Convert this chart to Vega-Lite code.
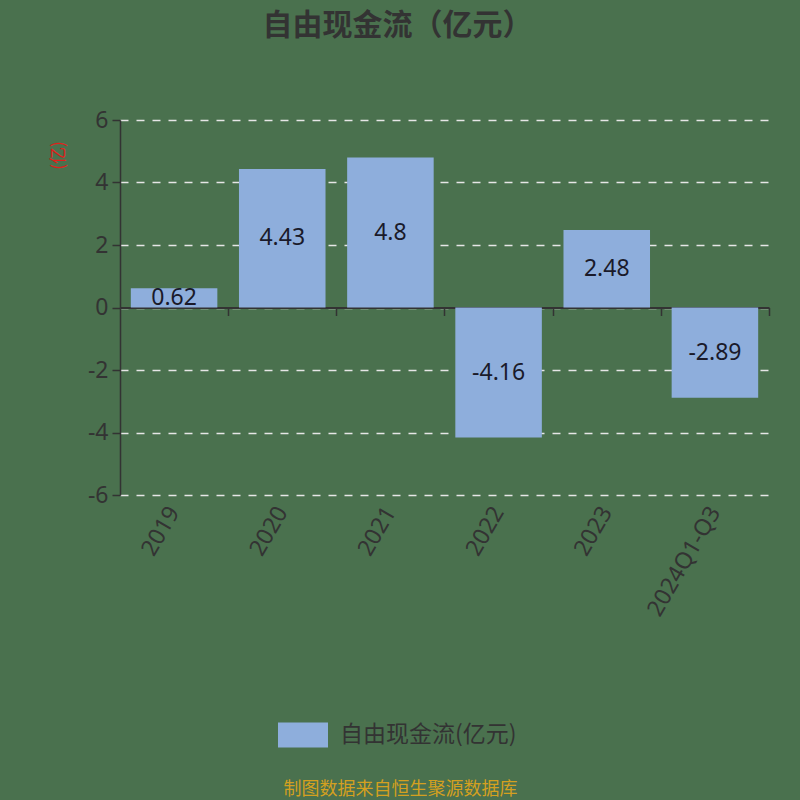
{
  "$schema": "https://vega.github.io/schema/vega-lite/v6.json",
  "autosize": {"type": "none"},
  "width": 649,
  "height": 375,
  "padding": {"left": 120, "top": 120, "right": 31, "bottom": 305},
  "background": "#4a714e",
  "title": {
    "text": "自由现金流（亿元）",
    "font": "Noto Sans CJK SC",
    "fontSize": 30,
    "fontWeight": "bold",
    "color": "#333333",
    "anchor": "middle",
    "dx": -47,
    "offset": 68
  },
  "data": {
    "values": [
      {"year": "2019", "value": 0.62, "series": "自由现金流(亿元)"},
      {"year": "2020", "value": 4.43, "series": "自由现金流(亿元)"},
      {"year": "2021", "value": 4.8, "series": "自由现金流(亿元)"},
      {"year": "2022", "value": -4.16, "series": "自由现金流(亿元)"},
      {"year": "2023", "value": 2.48, "series": "自由现金流(亿元)"},
      {"year": "2024Q1-Q3", "value": -2.89, "series": "自由现金流(亿元)"}
    ]
  },
  "transform": [{"calculate": "datum.value / 2", "as": "mid"}],
  "encoding": {
    "x": {
      "field": "year",
      "type": "nominal",
      "sort": null,
      "scale": {"paddingInner": 0.2, "paddingOuter": 0.1}
    }
  },
  "layer": [
    {
      "mark": {"type": "bar"},
      "encoding": {
        "x": {
          "field": "year",
          "type": "nominal",
          "sort": null,
          "axis": {
            "orient": "bottom",
            "domain": false,
            "ticks": false,
            "grid": false,
            "labelAngle": -60,
            "labelFont": "Noto Sans",
            "labelFontSize": 23,
            "labelColor": "#333333",
            "labelPadding": 13,
            "title": "制图数据来自恒生聚源数据库",
            "titleFont": "Noto Sans CJK SC",
            "titleFontSize": 18,
            "titleFontWeight": "normal",
            "titleColor": "#d4a020",
            "titleX": 280,
            "titleY": 294,
            "titleBaseline": "middle"
          }
        },
        "y": {
          "field": "value",
          "type": "quantitative",
          "scale": {"domain": [-6, 6]},
          "axis": {
            "values": [-6, -4, -2, 0, 2, 4, 6],
            "labelExpr": "'' + datum.value",
            "grid": true,
            "gridDash": [8, 8],
            "gridColor": "#e6e6e6",
            "gridWidth": 1.5,
            "domainColor": "#333333",
            "domainWidth": 1.5,
            "tickColor": "#333333",
            "tickSize": 8,
            "tickWidth": 1.5,
            "labelFont": "Noto Sans",
            "labelFontSize": 23,
            "labelColor": "#333333",
            "labelPadding": 4,
            "title": "(亿)",
            "titleFont": "Noto Sans CJK SC",
            "titleFontSize": 17,
            "titleFontWeight": "normal",
            "titleColor": "#e0201a",
            "titleX": -53,
            "titleY": 35
          }
        },
        "color": {
          "field": "series",
          "type": "nominal",
          "scale": {"range": ["#8eaedc"]},
          "legend": {
            "title": null,
            "orient": "none",
            "legendX": 158,
            "legendY": 590,
            "symbolType": "M-1,-0.5H1V0.5H-1Z",
            "symbolSize": 2500,
            "symbolStrokeWidth": 0,
            "labelFont": "Noto Sans CJK SC",
            "labelFontSize": 23,
            "labelColor": "#333333",
            "labelOffset": 12,
            "labelLimit": 400
          }
        }
      }
    },
    {
      "mark": {"type": "text", "font": "Noto Sans", "fontSize": 23, "color": "#1a1a2a", "baseline": "middle"},
      "encoding": {
        "x": {
          "field": "year",
          "type": "nominal",
          "sort": null,
          "axis": {
            "orient": "bottom",
            "offset": -187.5,
            "labels": false,
            "title": null,
            "grid": false,
            "domain": true,
            "domainColor": "#333333",
            "domainWidth": 2,
            "ticks": true,
            "tickOffset": 54,
            "tickColor": "#333333",
            "tickSize": 8,
            "tickWidth": 1.5
          }
        },
        "y": {"field": "mid", "type": "quantitative"},
        "text": {"field": "value", "type": "nominal"}
      }
    }
  ],
  "resolve": {"axis": {"x": "independent"}},
  "config": {"view": {"stroke": null}}
}
